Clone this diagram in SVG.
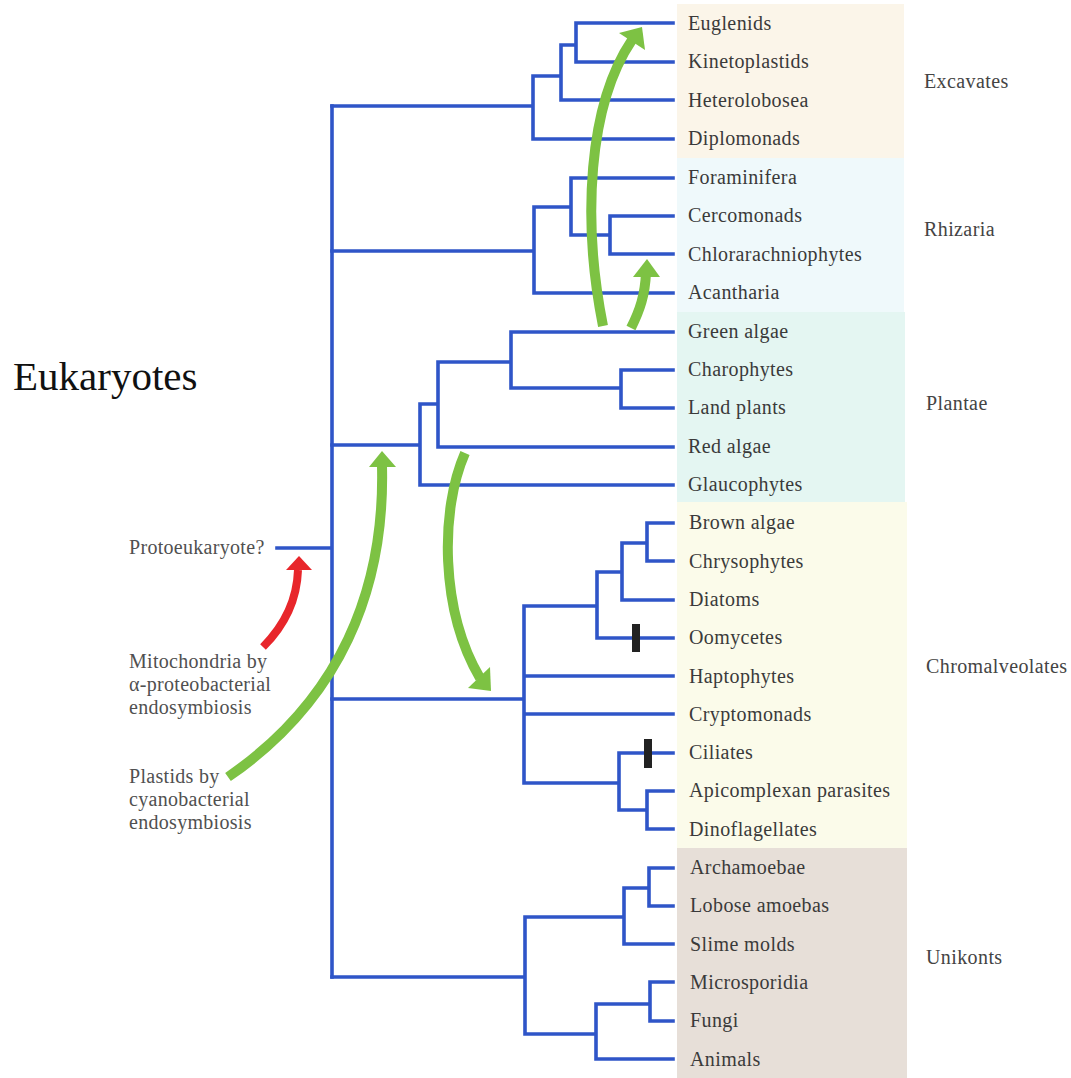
<svg xmlns="http://www.w3.org/2000/svg" width="1071" height="1078" viewBox="0 0 1071 1078">
<style>
.leaf{font-family:"Liberation Serif",serif;font-size:20px;letter-spacing:0.4px;fill:#3a3a3a}
.grp{font-family:"Liberation Serif",serif;font-size:20px;letter-spacing:0.4px;fill:#444}
.side{font-family:"Liberation Serif",serif;font-size:20px;letter-spacing:0.3px;fill:#505050}
.tree{fill:none;stroke:#2f55c8;stroke-width:3.6;stroke-linecap:square;stroke-linejoin:miter}
.ga{fill:none;stroke:#7dc243;stroke-width:10}
.gh{fill:#7dc243}
.ra{fill:none;stroke:#e8262b;stroke-width:8}
.rh{fill:#e8262b}
.mark{fill:#222}
</style>
<rect width="1071" height="1078" fill="#ffffff"/>
<g id="bands">
<rect x="677" y="4" width="227" height="154" fill="#fbf5e9"/>
<rect x="677" y="158" width="227" height="154" fill="#eff9fb"/>
<rect x="677" y="312" width="228" height="190" fill="#e4f6f2"/>
<rect x="677" y="502" width="230" height="346" fill="#fbfbea"/>
<rect x="677" y="848" width="230" height="230" fill="#e7dfd8"/>
</g>
<text x="13" y="390" style="font-family:'Liberation Serif',serif;font-size:41px;fill:#111">Eukaryotes</text>
<g id="connectors">
<path class="tree" d="M332,106 V977 M277,548 H332"/>
<path class="tree" d="M673,23 H576 V62 H673 M576,45 H561 V100 H673 M561,76 H533 V139 H673 M533,106 H332"/>
<path class="tree" d="M673,178 H571 V235 H610 M673,216 H610 V254 H673 M571,207 H534 V293 H673 M534,251 H332"/>
<path class="tree" d="M673,332 H511 V388 H621 M673,370 H621 V408 H673 M511,362 H438 V447 H673 M438,404 H420 V485 H673 M420,445 H332"/>
<path class="tree" d="M673,523 H647 V561 H673 M647,543 H622 V600 H673 M622,572 H597 V638 H673 M597,606 H524 V783 H619 M524,676 H673 M524,714 H673 M673,753 H619 V810 H647 M673,791 H647 V829 H673 M524,699 H332"/>
<path class="tree" d="M673,868 H649 V906 H673 M649,888 H624 V944 H673 M624,917 H525 V1034 H596 M673,982 H650 V1021 H673 M650,1004 H596 V1059 H673 M525,977 H332"/>
<rect class="mark" x="632" y="624" width="8" height="28"/>
<rect class="mark" x="644" y="739" width="8" height="29"/>
</g>
<g id="arrows">
<path class="ga" d="M603,326 C582,220 588,105 632,40"/>
<polygon class="gh" points="642,27 619,33 645,50"/>
<path class="ga" d="M631,328 C640,310 645,295 646,273"/>
<polygon class="gh" points="647,259 633,277 660,277"/>
<path class="ga" d="M465,453 C440,510 440,610 480,678"/>
<polygon class="gh" points="491,691 468,688 490,667"/>
<path class="ga" d="M228,777 C340,700 385,590 382,466"/>
<polygon class="gh" points="382,451 369,467 396,467"/>
<path class="ra" d="M263,647 C285,625 297,600 298,570"/>
<polygon class="rh" points="299,556 286,570 312,570"/>
</g>
<g id="leaves">
<text class="leaf" x="688" y="30">Euglenids</text>
<text class="leaf" x="688" y="68">Kinetoplastids</text>
<text class="leaf" x="688" y="107">Heterolobosea</text>
<text class="leaf" x="688" y="145">Diplomonads</text>
<text class="leaf" x="688" y="184">Foraminifera</text>
<text class="leaf" x="688" y="222">Cercomonads</text>
<text class="leaf" x="688" y="261">Chlorarachniophytes</text>
<text class="leaf" x="688" y="299">Acantharia</text>
<text class="leaf" x="688" y="338">Green algae</text>
<text class="leaf" x="688" y="376">Charophytes</text>
<text class="leaf" x="688" y="414">Land plants</text>
<text class="leaf" x="688" y="453">Red algae</text>
<text class="leaf" x="688" y="491">Glaucophytes</text>
<text class="leaf" x="689" y="529">Brown algae</text>
<text class="leaf" x="689" y="568">Chrysophytes</text>
<text class="leaf" x="689" y="606">Diatoms</text>
<text class="leaf" x="689" y="644">Oomycetes</text>
<text class="leaf" x="689" y="683">Haptophytes</text>
<text class="leaf" x="689" y="721">Cryptomonads</text>
<text class="leaf" x="689" y="759">Ciliates</text>
<text class="leaf" x="689" y="797">Apicomplexan parasites</text>
<text class="leaf" x="689" y="836">Dinoflagellates</text>
<text class="leaf" x="690" y="874">Archamoebae</text>
<text class="leaf" x="690" y="912">Lobose amoebas</text>
<text class="leaf" x="690" y="951">Slime molds</text>
<text class="leaf" x="690" y="989">Microsporidia</text>
<text class="leaf" x="690" y="1027">Fungi</text>
<text class="leaf" x="690" y="1066">Animals</text>
</g>
<g id="groups">
<text class="grp" x="924" y="88">Excavates</text>
<text class="grp" x="924" y="236">Rhizaria</text>
<text class="grp" x="926" y="410">Plantae</text>
<text class="grp" x="926" y="673">Chromalveolates</text>
<text class="grp" x="926" y="964">Unikonts</text>
</g>
<g id="side-labels">
<text class="side" x="129" y="554">Protoeukaryote?</text>
<text class="side" x="129" y="668">Mitochondria by</text>
<text class="side" x="129" y="691">α-proteobacterial</text>
<text class="side" x="129" y="714">endosymbiosis</text>
<text class="side" x="129" y="783">Plastids by</text>
<text class="side" x="129" y="806">cyanobacterial</text>
<text class="side" x="129" y="829">endosymbiosis</text>
</g>
</svg>
